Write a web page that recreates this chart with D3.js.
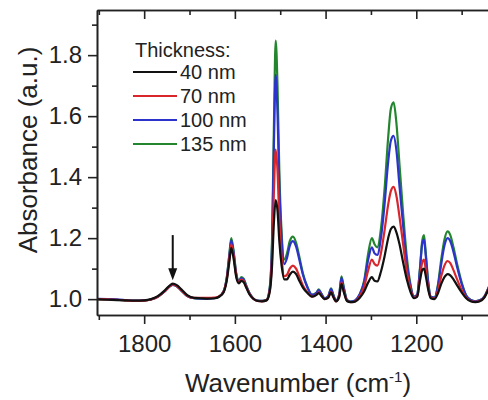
<!DOCTYPE html>
<html>
<head>
<meta charset="utf-8">
<script src="https://cdn.jsdelivr.net/npm/d3@7"></script>
<style>
  body { margin: 0; background: #fff; }
  text { font-family: "Liberation Sans", Arial, sans-serif; fill: #222; }
</style>
</head>
<body>
<div id="chart"></div>
<script>

  // wavenumbers (cm-1)
  var wavenumber = [1903, 1880, 1860, 1840, 1820, 1800, 1785, 1770, 1755, 1745,
    1737, 1728, 1718, 1705, 1690, 1675, 1660, 1645, 1635, 1625,
    1618, 1612, 1608, 1603, 1597, 1591, 1586, 1581, 1575, 1568,
    1560, 1550, 1540, 1530, 1523, 1518, 1514, 1510, 1506, 1502,
    1497, 1491, 1485, 1479, 1472, 1465, 1458, 1450, 1440, 1430,
    1420, 1415, 1410, 1402, 1394, 1388, 1383, 1377, 1370, 1365,
    1360, 1353, 1345, 1335, 1325, 1315, 1306, 1298, 1292, 1286,
    1278, 1270, 1262, 1256, 1250, 1244, 1237, 1229, 1221, 1213,
    1205, 1198, 1192, 1187, 1183, 1179, 1174, 1168, 1160, 1152,
    1145, 1138, 1131, 1125, 1118, 1110, 1100, 1090, 1080, 1070,
    1060, 1050, 1040, 1030]

  // absorbance for each film thickness
  var abs40 = [0.999, 0.998, 0.997, 0.996, 0.995, 0.996, 1.000, 1.010, 1.028, 1.043,
    1.051, 1.046, 1.032, 1.013, 1.004, 1.003, 1.002, 1.003, 1.008, 1.022,
    1.060, 1.125, 1.168, 1.135, 1.072, 1.052, 1.060, 1.056, 1.038, 1.016,
    1.002, 0.994, 0.993, 0.996, 1.025, 1.110, 1.250, 1.325, 1.290, 1.190,
    1.110, 1.065, 1.065, 1.080, 1.090, 1.082, 1.060, 1.038, 1.020, 1.008,
    1.014, 1.020, 1.012, 1.000, 1.005, 1.022, 1.007, 0.993, 1.007, 1.050,
    1.024, 0.994, 0.990, 0.992, 1.004, 1.025, 1.055, 1.072, 1.060, 1.058,
    1.090, 1.140, 1.200, 1.230, 1.238, 1.220, 1.180, 1.120, 1.065, 1.025,
    1.003, 1.008, 1.060, 1.095, 1.100, 1.075, 1.033, 1.003, 1.000, 1.020,
    1.050, 1.072, 1.082, 1.078, 1.065, 1.045, 1.022, 1.003, 0.993, 0.990,
    0.993, 1.005, 1.035, 1.070]

  var abs70 = [1.000, 0.999, 0.998, 0.996, 0.994, 0.995, 0.999, 1.008, 1.026, 1.041,
    1.048, 1.043, 1.029, 1.011, 1.004, 1.004, 1.004, 1.005, 1.009, 1.024,
    1.065, 1.135, 1.180, 1.145, 1.078, 1.055, 1.064, 1.060, 1.040, 1.018,
    1.002, 0.994, 0.993, 0.997, 1.030, 1.140, 1.350, 1.490, 1.420, 1.260,
    1.140, 1.075, 1.080, 1.100, 1.110, 1.100, 1.075, 1.045, 1.022, 1.008,
    1.015, 1.022, 1.013, 1.000, 1.006, 1.025, 1.008, 0.993, 1.008, 1.055,
    1.028, 0.995, 0.990, 0.993, 1.008, 1.040, 1.095, 1.130, 1.115, 1.110,
    1.150, 1.225, 1.310, 1.355, 1.368, 1.340, 1.270, 1.180, 1.090, 1.035,
    1.005, 1.010, 1.070, 1.120, 1.130, 1.095, 1.040, 1.005, 1.002, 1.030,
    1.075, 1.110, 1.125, 1.118, 1.095, 1.065, 1.030, 1.005, 0.994, 0.991,
    0.994, 1.006, 1.038, 1.075]

  var abs100 = [1.001, 1.000, 0.999, 0.997, 0.995, 0.996, 0.999, 1.008, 1.025, 1.040,
    1.047, 1.042, 1.028, 1.010, 1.003, 1.002, 1.002, 1.003, 1.008, 1.025,
    1.068, 1.145, 1.193, 1.155, 1.082, 1.058, 1.068, 1.065, 1.043, 1.020,
    1.003, 0.995, 0.994, 0.997, 1.037, 1.180, 1.500, 1.735, 1.610, 1.370,
    1.200, 1.115, 1.135, 1.175, 1.190, 1.172, 1.130, 1.080, 1.038, 1.014,
    1.021, 1.030, 1.019, 1.003, 1.010, 1.033, 1.014, 0.995, 1.014, 1.070,
    1.037, 0.998, 0.992, 0.996, 1.015, 1.055, 1.130, 1.170, 1.150, 1.145,
    1.200, 1.310, 1.450, 1.520, 1.535, 1.490, 1.370, 1.240, 1.120, 1.045,
    1.008, 1.015, 1.095, 1.180, 1.195, 1.140, 1.058, 1.008, 1.005, 1.045,
    1.115, 1.175, 1.200, 1.190, 1.155, 1.105, 1.050, 1.012, 0.997, 0.993,
    0.996, 1.008, 1.040, 1.080]

  var abs135 = [1.000, 0.999, 0.998, 0.996, 0.994, 0.995, 0.999, 1.008, 1.025, 1.040,
    1.047, 1.042, 1.028, 1.010, 1.003, 1.002, 1.002, 1.003, 1.008, 1.025,
    1.070, 1.150, 1.200, 1.160, 1.085, 1.060, 1.072, 1.068, 1.045, 1.020,
    1.003, 0.995, 0.994, 0.998, 1.040, 1.200, 1.560, 1.848, 1.700, 1.420,
    1.220, 1.130, 1.150, 1.190, 1.205, 1.185, 1.140, 1.085, 1.040, 1.015,
    1.022, 1.032, 1.020, 1.003, 1.010, 1.035, 1.015, 0.995, 1.015, 1.075,
    1.040, 0.998, 0.992, 0.995, 1.015, 1.060, 1.150, 1.200, 1.180, 1.170,
    1.230, 1.360, 1.530, 1.625, 1.645, 1.580, 1.440, 1.280, 1.140, 1.050,
    1.008, 1.015, 1.100, 1.190, 1.210, 1.150, 1.060, 1.008, 1.005, 1.050,
    1.130, 1.195, 1.222, 1.210, 1.170, 1.115, 1.055, 1.012, 0.997, 0.993,
    0.996, 1.008, 1.040, 1.080]

  var seriesNames = ["40 nm", "70 nm", "100 nm", "135 nm"]
  var seriesValues = [abs40, abs70, abs100, abs135]
  var seriesColors = ["#111111", "#d8262b", "#2b33cc", "#23862e"]

  // tick marks
  var xMajorTicks = [1800, 1600, 1400, 1200]
  var xMinorTicks = [1900, 1700, 1500, 1300, 1100]
  var yMajorTicks = [1.0, 1.2, 1.4, 1.6, 1.8]
  var yMinorTicks = [1.1, 1.3, 1.5, 1.7, 1.9]

  // arrow pointing at the carbonyl band
  var arrowAt = 1737, arrowFrom = 1.21, arrowTo = 1.062

  // chart layout
  var W = 488, H = 400
  var margin = {top: 10, left: 97}
  var plotRight = 507, plotBottom = 315

  var svg = d3.select("#chart").append("svg")
      .attr("width", W)
      .attr("height", H)

  // scales (wavenumber axis runs high to low)
  var xScale = d3.scaleLinear()
      .domain([1904, 1000])
      .range([margin.left, plotRight])

  var yScale = d3.scaleLinear()
      .domain([0.948, 1.948])
      .range([plotBottom, margin.top])

  svg.append("clipPath")
      .attr("id", "plotclip")
    .append("rect")
      .attr("x", margin.left)
      .attr("y", margin.top)
      .attr("width", plotRight - margin.left)
      .attr("height", plotBottom - margin.top)

  // spectra, thickest first so thin films sit on top
  var line = d3.line()
      .x(function(d, i) { return xScale(wavenumber[i]) })
      .y(function(d) { return yScale(d) })
      .curve(d3.curveMonotoneX)

  var order = [3, 2, 1, 0]
  svg.append("g")
      .attr("clip-path", "url(#plotclip)")
    .selectAll("path")
      .data(order)
    .enter().append("path")
      .attr("d", function(k) { return line(seriesValues[k]) })
      .attr("fill", "none")
      .attr("stroke", function(k) { return seriesColors[k] })
      .attr("stroke-width", 2.2)
      .attr("stroke-linejoin", "round")

  // axes
  function styleAxis(g) {
    g.select(".domain").attr("stroke", "#222").attr("stroke-width", 1.6)
    g.selectAll(".tick line").attr("stroke", "#222").attr("stroke-width", 1.6)
    g.selectAll(".tick text")
        .style("font-family", "'Liberation Sans', Arial, sans-serif")
        .style("font-size", "24px")
        .attr("fill", "#222")
  }

  svg.append("g")
      .attr("transform", "translate(0," + plotBottom + ")")
      .call(d3.axisBottom(xScale).tickValues(xMajorTicks).tickSize(9).tickSizeOuter(0).tickPadding(11)
        .tickFormat(d3.format("d")))
      .call(styleAxis)

  svg.append("g")
      .attr("transform", "translate(0," + plotBottom + ")")
      .call(d3.axisBottom(xScale).tickValues(xMinorTicks).tickSize(5).tickSizeOuter(0).tickFormat(""))
      .call(styleAxis)

  // mirror ticks on top, pointing inward
  svg.append("g")
      .attr("transform", "translate(0," + margin.top + ")")
      .call(d3.axisBottom(xScale).tickValues(xMajorTicks).tickSize(9).tickSizeOuter(0).tickFormat(""))
      .call(styleAxis)

  svg.append("g")
      .attr("transform", "translate(0," + margin.top + ")")
      .call(d3.axisBottom(xScale).tickValues(xMinorTicks).tickSize(5).tickSizeOuter(0).tickFormat(""))
      .call(styleAxis)

  svg.append("g")
      .attr("transform", "translate(" + margin.left + ",0)")
      .call(d3.axisLeft(yScale).tickValues(yMajorTicks).tickSize(9).tickSizeOuter(0).tickPadding(6)
        .tickFormat(d3.format(".1f")))
      .call(styleAxis)

  svg.append("g")
      .attr("transform", "translate(" + margin.left + ",0)")
      .call(d3.axisLeft(yScale).tickValues(yMinorTicks).tickSize(5).tickSizeOuter(0).tickFormat(""))
      .call(styleAxis)

  // axis titles
  var xTitle = svg.append("text")
      .attr("x", (margin.left + plotRight) / 2 - 4)
      .attr("y", 392)
      .attr("text-anchor", "middle")
      .style("font-size", "26px")
  xTitle.append("tspan").text("Wavenumber (cm")
  xTitle.append("tspan").attr("dy", -10).style("font-size", "15px").text("-1")
  xTitle.append("tspan").attr("dy", 10).text(")")

  svg.append("text")
      .attr("transform", "translate(37,150) rotate(-90)")
      .attr("text-anchor", "middle")
      .style("font-size", "26px")
      .text("Absorbance (a.u.)")

  // arrow marking the small band
  var ax = xScale(arrowAt), ay0 = yScale(arrowFrom), ay1 = yScale(arrowTo)
  svg.append("line")
      .attr("x1", ax).attr("x2", ax)
      .attr("y1", ay0).attr("y2", ay1 - 10)
      .attr("stroke", "#111")
      .attr("stroke-width", 2)
  svg.append("path")
      .attr("d", "M" + (ax - 4.5) + "," + (ay1 - 12) + "L" + (ax + 4.5) + "," + (ay1 - 12) + "L" + ax + "," + ay1 + "Z")
      .attr("fill", "#111")

  // legend
  var legend = svg.append("g")
      .attr("transform", "translate(133,0)")

  legend.append("text")
      .attr("x", 2)
      .attr("y", 57)
      .style("font-size", "20px")
      .text("Thickness:")

  var rows = legend.selectAll(".row")
      .data(seriesNames)
    .enter().append("g")
      .attr("class", "row")
      .attr("transform", function(d, i) { return "translate(0," + (72 + i * 24) + ")" })

  rows.append("line")
      .attr("x1", 0).attr("x2", 44)
      .attr("stroke", function(d, i) { return seriesColors[i] })
      .attr("stroke-width", 2)

  rows.append("text")
      .attr("x", 47)
      .attr("y", 7)
      .style("font-size", "20px")
      .text(function(d) { return d })

</script>
</body>
</html>
